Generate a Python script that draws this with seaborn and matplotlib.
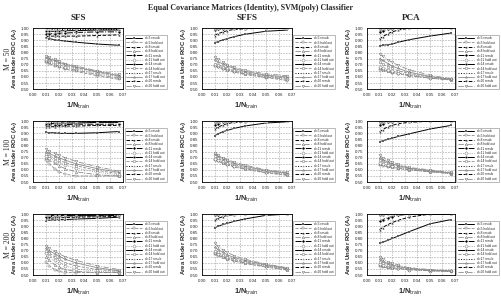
import numpy as np
import pandas as pd
import matplotlib
matplotlib.use('Agg')
import matplotlib.pyplot as plt
import seaborn as sns

# 1/N_train positions
inv_ntrain = [0.01, 0.0125, 0.0167, 0.02, 0.025, 0.0333, 0.05, 0.0667]
dims = [5, 8, 11, 14, 17, 20]
methods = ['SFS', 'SFFS', 'PCA']
m_values = [50, 100, 200]

# --- SFS ---
sfs_m50_resub = [
    [0.92, 0.915, 0.905, 0.90, 0.895, 0.885, 0.87, 0.86],
    [0.93, 0.935, 0.935, 0.935, 0.935, 0.935, 0.94, 0.945],
    [0.955, 0.955, 0.955, 0.96, 0.96, 0.965, 0.97, 0.97],
    [0.975, 0.975, 0.975, 0.978, 0.98, 0.98, 0.985, 0.985],
    [0.99, 0.99, 0.99, 0.99, 0.99, 0.99, 0.99, 0.99],
    [1.0, 1.0, 1.0, 1.0, 1.0, 1.0, 1.0, 1.0],
]
sfs_m50_hold = [
    [0.72, 0.71, 0.69, 0.68, 0.665, 0.645, 0.61, 0.58],
    [0.73, 0.72, 0.70, 0.69, 0.675, 0.655, 0.62, 0.59],
    [0.74, 0.73, 0.715, 0.70, 0.685, 0.665, 0.63, 0.60],
    [0.75, 0.74, 0.725, 0.71, 0.695, 0.675, 0.64, 0.605],
    [0.76, 0.75, 0.735, 0.72, 0.705, 0.68, 0.645, 0.61],
    [0.77, 0.76, 0.745, 0.73, 0.71, 0.69, 0.65, 0.62],
]
sfs_m100_resub = [
    [0.91, 0.905, 0.905, 0.90, 0.90, 0.90, 0.905, 0.915],
    [0.955, 0.955, 0.955, 0.96, 0.96, 0.96, 0.965, 0.965],
    [0.97, 0.97, 0.97, 0.97, 0.972, 0.975, 0.975, 0.975],
    [0.98, 0.98, 0.982, 0.985, 0.985, 0.985, 0.99, 0.99],
    [0.99, 0.99, 0.99, 0.992, 0.995, 0.995, 0.995, 0.995],
    [1.0, 1.0, 1.0, 1.0, 1.0, 1.0, 1.0, 1.0],
]
sfs_m100_hold = [
    [0.68, 0.65, 0.61, 0.585, 0.565, 0.55, 0.55, 0.55],
    [0.70, 0.68, 0.655, 0.635, 0.61, 0.585, 0.56, 0.55],
    [0.71, 0.695, 0.675, 0.66, 0.64, 0.615, 0.58, 0.56],
    [0.73, 0.715, 0.695, 0.68, 0.66, 0.635, 0.595, 0.57],
    [0.75, 0.735, 0.715, 0.70, 0.68, 0.65, 0.61, 0.58],
    [0.77, 0.755, 0.735, 0.72, 0.70, 0.67, 0.625, 0.59],
]
sfs_m200_resub = [
    [0.945, 0.95, 0.955, 0.955, 0.955, 0.96, 0.965, 0.975],
    [0.96, 0.965, 0.97, 0.97, 0.972, 0.975, 0.978, 0.98],
    [0.98, 0.98, 0.982, 0.985, 0.985, 0.985, 0.985, 0.99],
    [0.99, 0.99, 0.99, 0.99, 0.99, 0.99, 0.99, 0.995],
    [0.995, 0.995, 0.995, 0.995, 0.995, 0.998, 1.0, 1.0],
    [1.0, 1.0, 1.0, 1.0, 1.0, 1.0, 1.0, 1.0],
]
sfs_m200_hold = [
    [0.61, 0.575, 0.545, 0.53, 0.52, 0.52, 0.52, 0.52],
    [0.65, 0.62, 0.585, 0.565, 0.545, 0.53, 0.52, 0.52],
    [0.68, 0.655, 0.62, 0.60, 0.575, 0.55, 0.53, 0.525],
    [0.70, 0.68, 0.65, 0.63, 0.60, 0.575, 0.545, 0.53],
    [0.72, 0.70, 0.675, 0.655, 0.63, 0.60, 0.56, 0.535],
    [0.74, 0.72, 0.695, 0.675, 0.65, 0.62, 0.575, 0.545],
]

# --- SFFS ---
sffs_m50_resub = [
    [0.88, 0.89, 0.905, 0.915, 0.93, 0.95, 0.975, 0.985],
    [0.94, 0.955, 0.97, 0.98, 0.99, 0.995, 1.0, 1.0],
    [0.985, 0.99, 0.995, 1.0, 1.0, 1.0, 1.0, 1.0],
    [0.995, 1.0, 1.0, 1.0, 1.0, 1.0, 1.0, 1.0],
    [1.0, 1.0, 1.0, 1.0, 1.0, 1.0, 1.0, 1.0],
    [1.0, 1.0, 1.0, 1.0, 1.0, 1.0, 1.0, 1.0],
]
sffs_m50_hold = [
    [0.69, 0.68, 0.665, 0.655, 0.64, 0.62, 0.595, 0.57],
    [0.70, 0.69, 0.675, 0.66, 0.645, 0.625, 0.60, 0.58],
    [0.70, 0.69, 0.675, 0.665, 0.65, 0.63, 0.605, 0.585],
    [0.71, 0.70, 0.685, 0.67, 0.655, 0.635, 0.61, 0.59],
    [0.74, 0.725, 0.705, 0.69, 0.67, 0.645, 0.615, 0.60],
    [0.76, 0.745, 0.72, 0.70, 0.68, 0.655, 0.625, 0.61],
]
sffs_m100_resub = [
    [0.88, 0.895, 0.915, 0.925, 0.94, 0.96, 0.985, 0.995],
    [0.935, 0.95, 0.97, 0.98, 0.99, 0.995, 1.0, 1.0],
    [0.97, 0.98, 0.99, 0.995, 1.0, 1.0, 1.0, 1.0],
    [0.995, 0.995, 1.0, 1.0, 1.0, 1.0, 1.0, 1.0],
    [1.0, 1.0, 1.0, 1.0, 1.0, 1.0, 1.0, 1.0],
    [1.0, 1.0, 1.0, 1.0, 1.0, 1.0, 1.0, 1.0],
]
sffs_m100_hold = [
    [0.68, 0.67, 0.655, 0.64, 0.625, 0.605, 0.575, 0.555],
    [0.69, 0.68, 0.66, 0.645, 0.63, 0.61, 0.58, 0.56],
    [0.69, 0.68, 0.665, 0.65, 0.635, 0.615, 0.585, 0.565],
    [0.71, 0.695, 0.675, 0.66, 0.645, 0.62, 0.59, 0.57],
    [0.73, 0.715, 0.69, 0.675, 0.655, 0.63, 0.595, 0.575],
    [0.74, 0.725, 0.70, 0.685, 0.665, 0.64, 0.60, 0.58],
]
sffs_m200_resub = [
    [0.885, 0.90, 0.915, 0.925, 0.94, 0.96, 0.99, 1.0],
    [0.95, 0.965, 0.98, 0.99, 0.995, 1.0, 1.0, 1.0],
    [0.99, 0.995, 1.0, 1.0, 1.0, 1.0, 1.0, 1.0],
    [0.995, 1.0, 1.0, 1.0, 1.0, 1.0, 1.0, 1.0],
    [1.0, 1.0, 1.0, 1.0, 1.0, 1.0, 1.0, 1.0],
    [1.0, 1.0, 1.0, 1.0, 1.0, 1.0, 1.0, 1.0],
]
sffs_m200_hold = [
    [0.67, 0.66, 0.645, 0.63, 0.615, 0.595, 0.565, 0.54],
    [0.68, 0.67, 0.65, 0.635, 0.62, 0.60, 0.57, 0.545],
    [0.69, 0.675, 0.655, 0.64, 0.625, 0.605, 0.575, 0.55],
    [0.70, 0.685, 0.665, 0.65, 0.63, 0.61, 0.58, 0.55],
    [0.73, 0.71, 0.685, 0.665, 0.645, 0.62, 0.585, 0.555],
    [0.76, 0.735, 0.705, 0.685, 0.66, 0.63, 0.59, 0.56],
]

# --- PCA ---
pca_m50_resub = [
    [0.855, 0.86, 0.865, 0.87, 0.885, 0.905, 0.935, 0.96],
    [0.91, 0.93, 0.955, 0.97, 0.985, 1.0, 1.0, 1.0],
    [0.97, 0.98, 0.99, 0.995, 1.0, 1.0, 1.0, 1.0],
    [0.995, 1.0, 1.0, 1.0, 1.0, 1.0, 1.0, 1.0],
    [1.0, 1.0, 1.0, 1.0, 1.0, 1.0, 1.0, 1.0],
    [1.0, 1.0, 1.0, 1.0, 1.0, 1.0, 1.0, 1.0],
]
pca_m50_hold = [
    [0.66, 0.655, 0.645, 0.635, 0.625, 0.61, 0.59, 0.575],
    [0.67, 0.66, 0.65, 0.64, 0.63, 0.615, 0.59, 0.575],
    [0.68, 0.67, 0.66, 0.65, 0.635, 0.62, 0.595, 0.58],
    [0.72, 0.705, 0.685, 0.67, 0.65, 0.63, 0.60, 0.58],
    [0.75, 0.735, 0.71, 0.69, 0.67, 0.64, 0.605, 0.58],
    [0.79, 0.77, 0.74, 0.72, 0.695, 0.66, 0.615, 0.585],
]
pca_m100_resub = [
    [0.83, 0.84, 0.85, 0.86, 0.875, 0.895, 0.935, 0.965],
    [0.91, 0.93, 0.955, 0.965, 0.98, 0.99, 1.0, 1.0],
    [0.97, 0.98, 0.99, 0.995, 1.0, 1.0, 1.0, 1.0],
    [0.99, 0.995, 1.0, 1.0, 1.0, 1.0, 1.0, 1.0],
    [1.0, 1.0, 1.0, 1.0, 1.0, 1.0, 1.0, 1.0],
    [1.0, 1.0, 1.0, 1.0, 1.0, 1.0, 1.0, 1.0],
]
pca_m100_hold = [
    [0.64, 0.635, 0.625, 0.62, 0.61, 0.60, 0.585, 0.57],
    [0.65, 0.645, 0.635, 0.625, 0.615, 0.60, 0.585, 0.57],
    [0.66, 0.65, 0.64, 0.63, 0.62, 0.605, 0.59, 0.575],
    [0.68, 0.67, 0.655, 0.645, 0.63, 0.61, 0.59, 0.575],
    [0.70, 0.685, 0.665, 0.65, 0.635, 0.615, 0.595, 0.575],
    [0.72, 0.70, 0.68, 0.665, 0.645, 0.62, 0.60, 0.58],
]
pca_m200_resub = [
    [0.76, 0.77, 0.785, 0.80, 0.82, 0.855, 0.92, 0.955],
    [0.87, 0.89, 0.915, 0.93, 0.95, 0.975, 1.0, 1.0],
    [0.94, 0.955, 0.97, 0.98, 0.99, 1.0, 1.0, 1.0],
    [0.99, 0.995, 1.0, 1.0, 1.0, 1.0, 1.0, 1.0],
    [1.0, 1.0, 1.0, 1.0, 1.0, 1.0, 1.0, 1.0],
    [1.0, 1.0, 1.0, 1.0, 1.0, 1.0, 1.0, 1.0],
]
pca_m200_hold = [
    [0.57, 0.565, 0.56, 0.555, 0.55, 0.545, 0.535, 0.53],
    [0.58, 0.575, 0.565, 0.56, 0.555, 0.545, 0.535, 0.53],
    [0.59, 0.58, 0.57, 0.565, 0.555, 0.545, 0.535, 0.53],
    [0.61, 0.60, 0.585, 0.575, 0.565, 0.55, 0.54, 0.53],
    [0.63, 0.615, 0.595, 0.585, 0.57, 0.555, 0.54, 0.535],
    [0.65, 0.635, 0.61, 0.595, 0.58, 0.56, 0.545, 0.535],
]

panels = {
    ('SFS', 50): (sfs_m50_resub, sfs_m50_hold),
    ('SFS', 100): (sfs_m100_resub, sfs_m100_hold),
    ('SFS', 200): (sfs_m200_resub, sfs_m200_hold),
    ('SFFS', 50): (sffs_m50_resub, sffs_m50_hold),
    ('SFFS', 100): (sffs_m100_resub, sffs_m100_hold),
    ('SFFS', 200): (sffs_m200_resub, sffs_m200_hold),
    ('PCA', 50): (pca_m50_resub, pca_m50_hold),
    ('PCA', 100): (pca_m100_resub, pca_m100_hold),
    ('PCA', 200): (pca_m200_resub, pca_m200_hold),
}

# line styles for the 6 dims: (marker, linestyle)
resub_styles = [('s', '-'), ('^', '--'), ('D', '-.'), ('o', '-'), ('*', ':'), ('v', '--')]
hold_styles = [('s', '--'), ('^', '-.'), ('D', ':'), ('o', '--'), ('*', '-'), ('v', '-.')]

sns.set_style('white')
plt.rcParams['font.family'] = ['Liberation Sans', 'DejaVu Sans']

fig = plt.figure(figsize=(5.02, 2.97), dpi=100, facecolor='white')

col_left = [0.066, 0.402, 0.731]
col_width = [0.179, 0.179, 0.175]
row_bottom = [0.700, 0.387, 0.074]
row_height = 0.205

for ci, method in enumerate(methods):
    for ri, m in enumerate(m_values):
        ax = fig.add_axes([col_left[ci], row_bottom[ri], col_width[ci], row_height])
        resub, hold = panels[(method, m)]
        for k, d in enumerate(dims):
            mk, ls = resub_styles[k]
            sns.lineplot(x=inv_ntrain, y=resub[k], ax=ax, color='black', linestyle=ls,
                         marker=mk, markersize=1.8, linewidth=0.7,
                         markeredgewidth=0.3, label=f'd={d} resub')
            mk, ls = hold_styles[k]
            sns.lineplot(x=inv_ntrain, y=hold[k], ax=ax, color='0.55', linestyle=ls,
                         marker=mk, markersize=1.8, linewidth=0.6,
                         markerfacecolor='white', markeredgecolor='0.4',
                         markeredgewidth=0.3, label=f'd={d} hold out')
        ax.set_xlim(0, 0.07)
        ax.set_ylim(0.5, 1.0)
        ax.set_xticks(np.arange(0, 0.0701, 0.01))
        ax.set_yticks(np.arange(0.5, 1.001, 0.05))
        ax.xaxis.set_major_formatter(matplotlib.ticker.FormatStrFormatter('%.2f'))
        ax.yaxis.set_major_formatter(matplotlib.ticker.FormatStrFormatter('%.2f'))
        ax.tick_params(labelsize=3.2, length=1.2, width=0.4, pad=1.5)
        ax.grid(True, color='0.6', linestyle=(0, (3, 2)), linewidth=0.4)
        for sp in ax.spines.values():
            sp.set_linewidth(0.6)
            sp.set_color('black')
        ax.set_xlabel('1/N$_{\\mathrm{train}}$', fontsize=5.2, fontweight='bold', labelpad=3)
        ax.set_ylabel('Area Under ROC (A$_z$)', fontsize=4.3, fontweight='bold', labelpad=1)
        leg = ax.legend(loc='upper left', bbox_to_anchor=(1.0, 0.92), fontsize=2.3,
                        frameon=True, fancybox=False, edgecolor='0.6',
                        handlelength=5, labelspacing=0.1, borderpad=0.5,
                        handletextpad=1.0)
        leg.get_frame().set_linewidth(0.6)
        if ri == 0:
            ax.set_title(method, fontsize=6.5, fontweight='bold', family='Liberation Serif', pad=6)
        if ci == 0:
            fig.text(0.016, row_bottom[ri] + row_height / 2, f'M = {m}', rotation=90,
                     ha='center', va='center', fontsize=5.5, family='Liberation Serif')

fig.text(0.5, 0.985, 'Equal Covariance Matrices (Identity), SVM(poly) Classifier',
         ha='center', va='top', fontsize=5.8, fontweight='bold', family='Liberation Serif')

fig.savefig('out.png', dpi=100, facecolor='white')
